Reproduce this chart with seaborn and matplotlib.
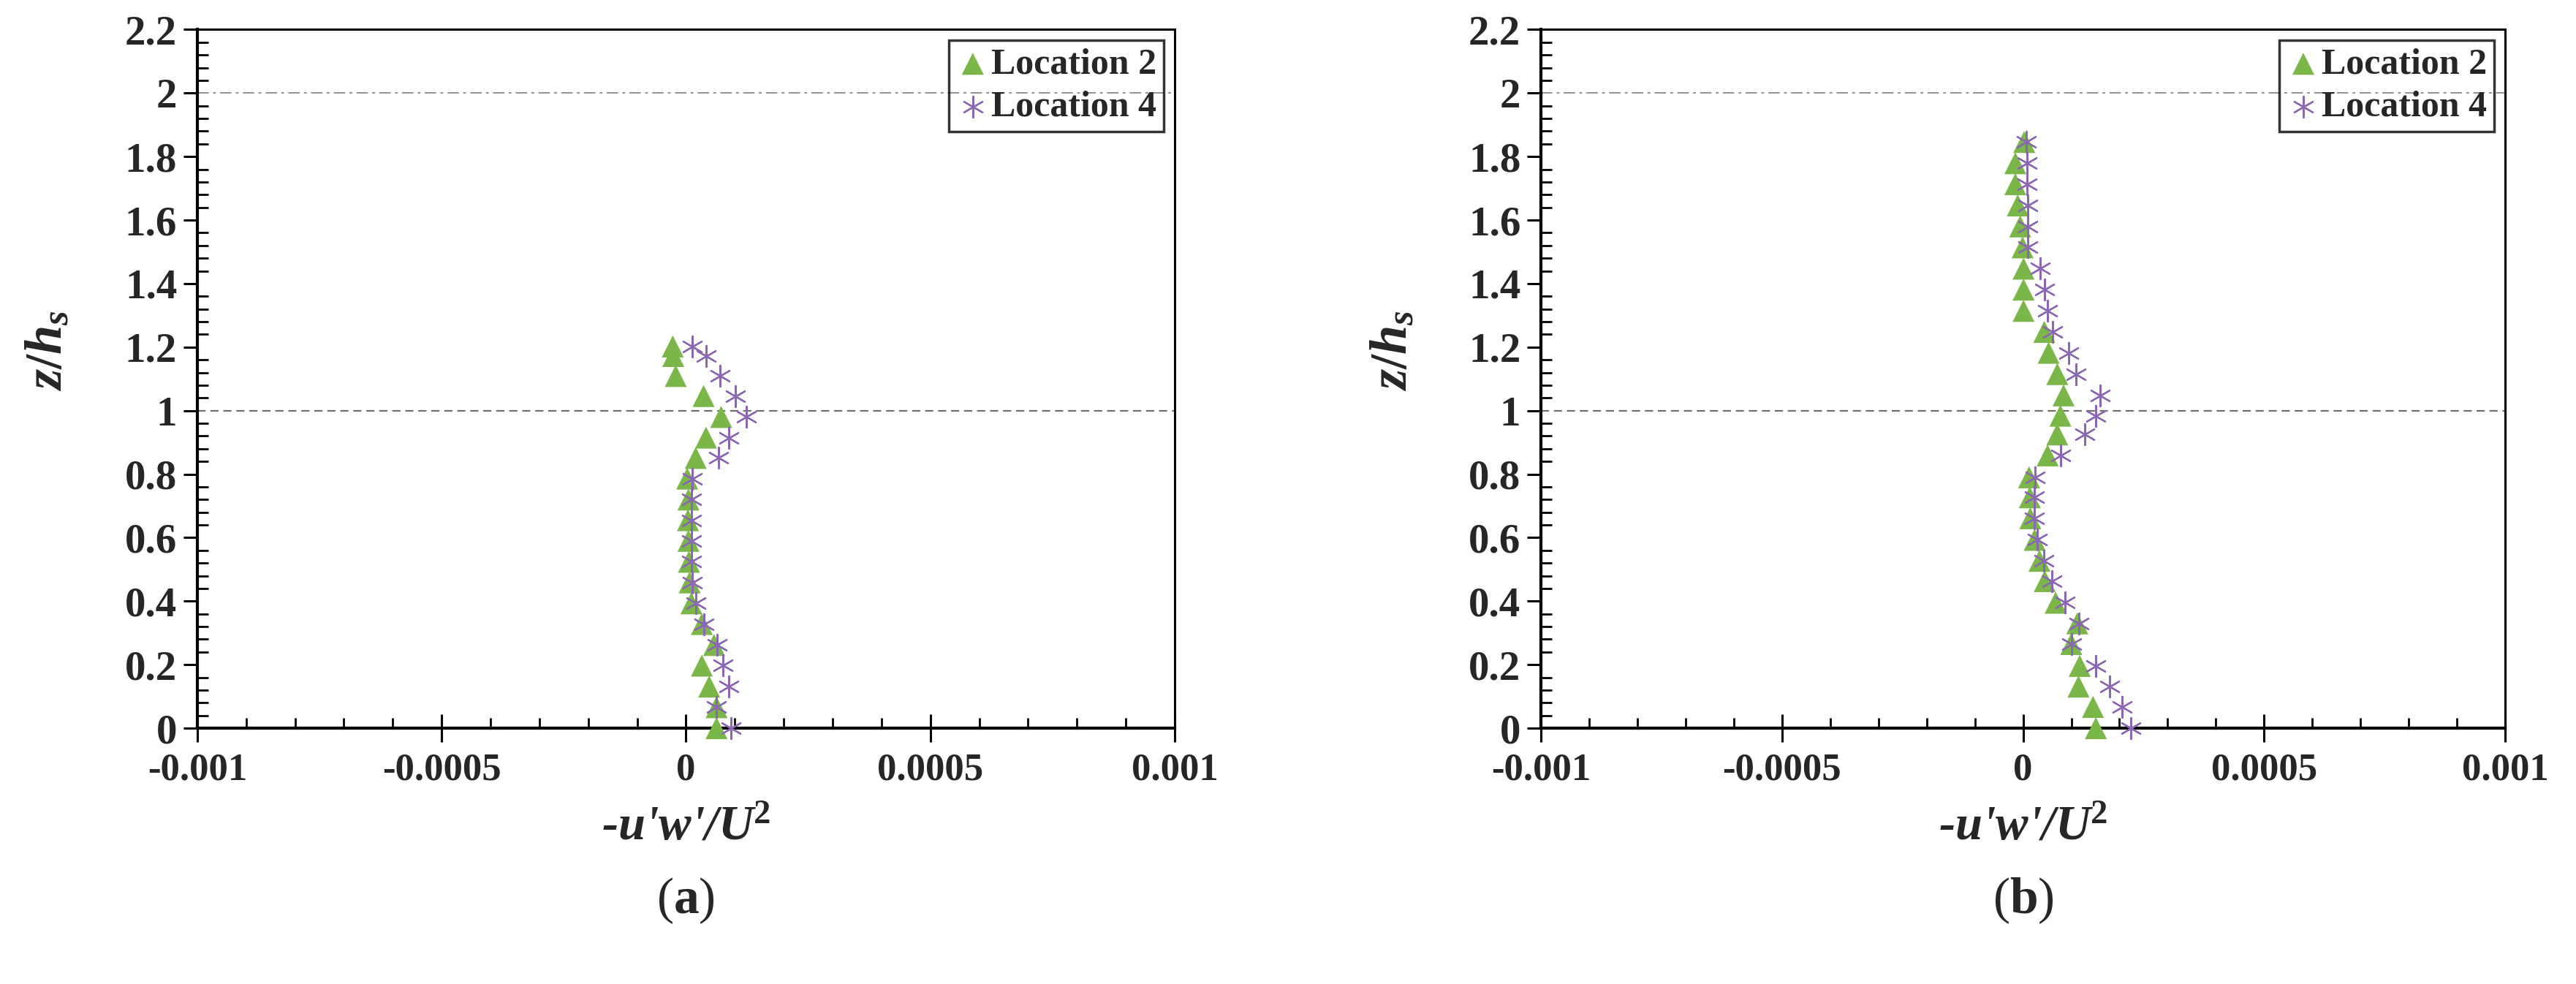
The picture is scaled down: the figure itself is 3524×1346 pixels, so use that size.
import numpy as np
import pandas as pd
import matplotlib
matplotlib.use("Agg")
import matplotlib.pyplot as plt
import seaborn as sns
from matplotlib.ticker import MultipleLocator, FixedLocator, FuncFormatter

# ---------------- data ----------------
SERIES = ["Location 2", "Location 4"]

# panel (a)
z_a = [0.0, 0.066, 0.131, 0.197, 0.262, 0.328, 0.393, 0.459, 0.524, 0.590,
       0.655, 0.720, 0.786, 0.851, 0.915, 0.980, 1.046, 1.109, 1.172, 1.202]
loc2_a = [6.25e-5, 6.25e-5, 4.75e-5, 3.25e-5, 5.75e-5, 3.25e-5, 1.1e-5, 0.75e-5,
          0.6e-5, 0.5e-5, 0.4e-5, 0.5e-5, 0.25e-5, 2.0e-5, 4.1e-5, 7.2e-5,
          3.6e-5, -2.1e-5, -2.6e-5, -2.7e-5]
loc4_a = [9.25e-5, 6.25e-5, 8.75e-5, 7.6e-5, 6.4e-5, 3.6e-5, 2.0e-5, 1.35e-5,
          1.15e-5, 1.1e-5, 1.1e-5, 1.15e-5, 1.35e-5, 6.6e-5, 8.7e-5, 12.3e-5,
          10.1e-5, 7.0e-5, 4.1e-5, 1.25e-5]

# panel (b)
z_b = [0.0, 0.067, 0.131, 0.196, 0.265, 0.330, 0.395, 0.463, 0.527, 0.593,
       0.661, 0.727, 0.790, 0.859, 0.925, 0.984, 1.048, 1.115, 1.182, 1.248,
       1.314, 1.381, 1.447, 1.514, 1.580, 1.646, 1.713, 1.779, 1.846]
loc2_b = [15.1e-5, 14.5e-5, 11.5e-5, 11.75e-5, 10.0e-5, 11.25e-5, 6.75e-5, 4.5e-5,
          3.4e-5, 2.4e-5, 1.5e-5, 1.4e-5, 1.25e-5, 5.1e-5, 7.1e-5, 7.75e-5,
          8.4e-5, 7.1e-5, 5.3e-5, 4.4e-5, 0.1e-5, 0.1e-5, 0.1e-5, -0.1e-5,
          -0.6e-5, -1.1e-5, -1.6e-5, -1.6e-5, 0.25e-5]
loc4_b = [22.4e-5, 20.5e-5, 18.0e-5, 15.0e-5, 10.0e-5, 11.6e-5, 8.75e-5, 6.0e-5,
          4.25e-5, 3.0e-5, 2.4e-5, 2.4e-5, 2.5e-5, 7.75e-5, 12.75e-5, 15.1e-5,
          16.0e-5, 11.0e-5, 9.4e-5, 6.1e-5, 5.1e-5, 4.5e-5, 3.5e-5, 0.9e-5,
          0.9e-5, 0.9e-5, 0.75e-5, 0.75e-5, 0.6e-5]

REF_LINES = [1.0, 2.0]
XTICKS = [-0.001, -0.0005, 0.0, 0.0005, 0.001]
XTICKLABELS = ["-0.001", "-0.0005", "0", "0.0005", "0.001"]
CAPTIONS = ["a", "b"]

GREEN = "#7ab648"
PURPLE = "#8a66b4"

# ---------------- style ----------------
sns.set_theme(style="ticks")
plt.rcParams["font.family"] = ["Liberation Serif", "DejaVu Serif"]
plt.rcParams["mathtext.fontset"] = "custom"
plt.rcParams["mathtext.rm"] = "Liberation Serif"
plt.rcParams["mathtext.it"] = "Liberation Serif:italic:bold"
plt.rcParams["mathtext.bf"] = "Liberation Serif:bold"

fig = plt.figure(figsize=(35.24, 13.46), dpi=100)
ax_a = fig.add_axes([0.0766, 0.26, 0.3794, 0.710])
ax_b = fig.add_axes([0.5982, 0.26, 0.3743, 0.710])


def draw(ax, z, l2, l4, cap):
    for val, ls, col, lw in zip(REF_LINES, [(0, (5, 3)), (0, (8, 3, 2, 3))],
                                ["#707070", "#909090"], [1.6, 1.4]):
        ax.axhline(val, ls=ls, color=col, lw=lw, zorder=1)
    df2 = pd.DataFrame({"u": l2, "z": z})
    df4 = pd.DataFrame({"u": l4, "z": z})
    sns.scatterplot(data=df2, x="u", y="z", ax=ax, marker="^", s=470,
                    color=GREEN, edgecolor="none", linewidth=0,
                    label=SERIES[0], zorder=4, clip_on=False)
    sns.scatterplot(data=df4, x="u", y="z", ax=ax, marker=(6, 2, 0), s=440,
                    color=PURPLE, linewidth=1.6,
                    label=SERIES[1], zorder=5, clip_on=False)
    ax.set_xlim(-0.001, 0.001)
    ax.set_ylim(0, 2.2)

    ax.xaxis.set_major_locator(FixedLocator(XTICKS))
    ax.set_xticklabels(XTICKLABELS)
    ax.xaxis.set_minor_locator(MultipleLocator(0.0001))
    ax.yaxis.set_major_locator(MultipleLocator(0.2))
    ax.yaxis.set_major_formatter(FuncFormatter(lambda v, p: "%g" % round(v, 2)))
    ax.yaxis.set_minor_locator(MultipleLocator(0.04))

    ax.tick_params(axis="x", which="major", direction="inout", length=28,
                   width=2.2, labelsize=38, pad=10, color="black")
    ax.tick_params(axis="x", which="minor", direction="in", length=10,
                   width=2.0, color="black")
    ax.tick_params(axis="y", which="major", direction="out", length=14,
                   width=2.2, labelsize=41, pad=6, color="black")
    ax.tick_params(axis="y", which="minor", direction="in", length=11,
                   width=2.0, color="black")
    for lab in ax.get_xticklabels() + ax.get_yticklabels():
        lab.set_fontweight("bold")

    for side in ["left", "bottom"]:
        ax.spines[side].set_linewidth(3.0)
        ax.spines[side].set_color("black")
    for side in ["top", "right"]:
        ax.spines[side].set_visible(True)
        ax.spines[side].set_linewidth(2.2)
        ax.spines[side].set_color("black")

    ax.set_xlabel(r"-u'w'/U$^{\mathbf{2}}$", fontsize=48, fontweight="bold",
                  fontstyle="italic")
    ax.set_ylabel(r"$z\mathbf{/}h_s$", fontsize=52)
    ax.xaxis.label.set_va("center")
    ax.yaxis.label.set_va("center")
    ax.xaxis.set_label_coords(0.5, -0.142)
    ax.yaxis.set_label_coords(-0.152, 0.54)

    leg = ax.legend(loc="upper right", prop={"family": "Liberation Serif",
                                             "weight": "bold", "size": 36},
                    frameon=True, fancybox=False, edgecolor="black",
                    facecolor="none", framealpha=None, borderpad=0.2,
                    handletextpad=0.05, handlelength=0.9, labelspacing=0.25,
                    borderaxespad=0.3)
    leg.get_frame().set_linewidth(2.5)

    ax.text(0.5, -0.247, r"$(\mathbf{%s})$" % cap, transform=ax.transAxes,
            ha="center", va="center", fontsize=50)


draw(ax_a, z_a, loc2_a, loc4_a, CAPTIONS[0])
draw(ax_b, z_b, loc2_b, loc4_b, CAPTIONS[1])

fig.savefig("out.png", dpi=100, facecolor="white")
